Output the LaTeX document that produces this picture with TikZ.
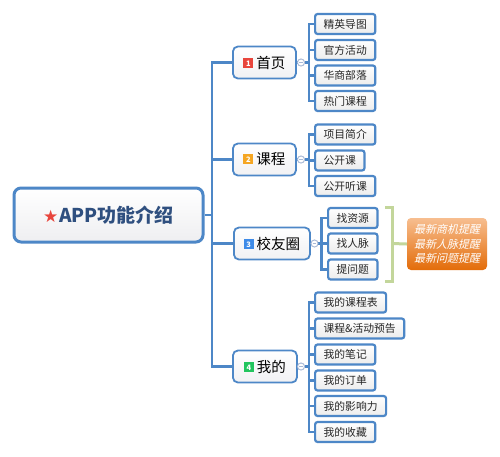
\documentclass[tikz,border=0pt]{standalone}
\usepackage{fontspec}
\setmainfont{Noto Sans CJK SC}
\newfontfamily\cjkslant[FakeSlant=0.22]{Noto Sans CJK SC}
\newfontfamily\symfont{DejaVu Sans}
\usetikzlibrary{calc}
\definecolor{lineblue}{HTML}{4D87C7}
\definecolor{rootblue}{HTML}{2F4F7F}
\definecolor{circgray}{HTML}{A9B9D6}
\definecolor{brgreen}{HTML}{C3D69B}
\definecolor{bred}{HTML}{E8453C}
\definecolor{borange}{HTML}{F5A623}
\definecolor{bblue}{HTML}{3E8BE8}
\definecolor{bgreen}{HTML}{22C55E}
\definecolor{ortop}{HTML}{F7BE90}
\definecolor{orbot}{HTML}{E36C09}
\newcommand\mybadge[2]{{\setlength\fboxsep{0pt}\raisebox{0.5pt}{\colorbox{#1}{\makebox[10pt][c]{\rule{0pt}{10pt}\raisebox{1.5pt}{\color{white}\fontsize{7.5pt}{8pt}\selectfont\bfseries #2}}}}}}
\tikzset{
  conn/.style={draw=lineblue, line width=2.2pt},
  rootbox/.style={draw=lineblue, line width=3pt, rounded corners=7pt, top color=white, bottom color=blue!8!gray!12, minimum width=189pt, minimum height=54pt, inner sep=0pt},
  topicbox/.style={draw=lineblue, line width=1.8pt, rounded corners=5pt, top color=white, bottom color=blue!10!gray!10, minimum height=32pt, anchor=west, inner sep=0pt, font=\fontsize{14.5pt}{16pt}\selectfont},
  leafbox/.style={draw=lineblue, line width=2.2pt, rounded corners=2.5pt, top color=white, bottom color=gray!15, minimum height=20pt, inner xsep=8.5pt, inner ysep=0pt, anchor=west, font=\fontsize{10.8pt}{12pt}\selectfont, text=black!85},
  collapse/.style={circle, draw=circgray, fill=white, line width=0.8pt, minimum size=7pt, inner sep=0pt,
    path picture={\draw[circgray, line width=0.8pt] ($(path picture bounding box.center)+(-1.8pt,0)$) -- ($(path picture bounding box.center)+(1.8pt,0)$);}},
  notebox/.style={rounded corners=4pt, top color=ortop, bottom color=orbot, minimum width=80pt, minimum height=52pt, inner sep=0pt, align=center, text=white, font=\cjkslant\fontsize{11pt}{14.5pt}\selectfont},
  bracket/.style={draw=brgreen, line width=3pt}
}
\begin{document}
\begin{tikzpicture}[x=1pt,y=-1pt]
\useasboundingbox[fill=white] (0,0) rectangle (500,456);
% root
\node[rootbox] (root) at (108.5,215) {\textcolor{bred}{\symfont\fontsize{17pt}{18pt}\selectfont ★}\hspace{1pt}\textcolor{rootblue}{\bfseries\fontsize{19pt}{22pt}\selectfont APP功能介绍}};
\coordinate (trunk) at (212,215);
% topics
\node[topicbox, minimum width=63pt] (t1) at (232,62.5) {\mybadge{bred}{1}\hspace{3pt}首页};
\node[topicbox, minimum width=63pt] (t2) at (232,159.5) {\mybadge{borange}{2}\hspace{3pt}课程};
\node[topicbox, minimum width=76pt] (t3) at (233,243.5) {\mybadge{bblue}{3}\hspace{3pt}校友圈};
\node[topicbox, minimum width=64pt] (t4) at (232,366.5) {\mybadge{bgreen}{4}\hspace{3pt}我的};
\draw[conn] (root.east) -- (trunk);
\foreach \t in {t1,t2,t3,t4} \draw[conn] (trunk) |- (\t.west);
% collapse circles
\node[collapse] (c1) at (301,62.5) {};
\node[collapse] (c2) at (301,159.5) {};
\node[collapse] (c3) at (314.5,243.5) {};
\node[collapse] (c4) at (301,366.5) {};
\coordinate (s1) at (309,62.5);
\coordinate (s2) at (309,159.5);
\coordinate (s3) at (321.5,243.5);
\coordinate (s4) at (309,366.5);
% leaves 1
\node[leafbox] (a1) at (314,24) {精英导图};
\node[leafbox] (a2) at (314,50) {官方活动};
\node[leafbox] (a3) at (314,75.5) {华商部落};
\node[leafbox] (a4) at (314,101) {热门课程};
% leaves 2
\node[leafbox] (b1) at (314,134.5) {项目简介};
\node[leafbox] (b2) at (314,160.5) {公开课};
\node[leafbox] (b3) at (314,186) {公开听课};
% leaves 3
\node[leafbox] (d1) at (327,218) {找资源};
\node[leafbox] (d2) at (327,243.5) {找人脉};
\node[leafbox] (d3) at (327,269.5) {提问题};
% leaves 4
\node[leafbox] (e1) at (314,302.5) {我的课程表};
\node[leafbox] (e2) at (314,328.5) {课程\&活动预告};
\node[leafbox] (e3) at (314,354.5) {我的笔记};
\node[leafbox] (e4) at (314,380.5) {我的订单};
\node[leafbox] (e5) at (314,406) {我的影响力};
\node[leafbox] (e6) at (314,432) {我的收藏};
% connectors topic -> circle -> sub trunk
\draw[conn] (t1.east) -- (c1.west);
\draw[conn] (t2.east) -- (c2.west);
\draw[conn] (t3.east) -- (c3.west);
\draw[conn] (t4.east) -- (c4.west);
\draw[conn] (c1.east) -- (s1);
\draw[conn] (c2.east) -- (s2);
\draw[conn] (c3.east) -- (s3);
\draw[conn] (c4.east) -- (s4);
\foreach \l in {a1,a2,a3,a4} \draw[conn] (s1) |- (\l.west);
\foreach \l in {b1,b2,b3} \draw[conn] (s2) |- (\l.west);
\foreach \l in {d1,d2,d3} \draw[conn] (s3) |- (\l.west);
\foreach \l in {e1,e2,e3,e4,e5,e6} \draw[conn] (s4) |- (\l.west);
\node[collapse] at (c1) {};
\node[collapse] at (c2) {};
\node[collapse] at (c3) {};
\node[collapse] at (c4) {};
% bracket and note
\coordinate (bt) at (385,207.5);
\coordinate (bb) at (385,281.5);
\coordinate (bm) at (392,243.5);
\node[notebox] (note) at (447,244) {最新商机提醒\\最新人脉提醒\\最新问题提醒};
\draw[bracket] (bt) -- (bt -| bm) -- (bb -| bm) -- (bb);
\draw[bracket] (bm) -- (note.west);
\end{tikzpicture}
\end{document}
